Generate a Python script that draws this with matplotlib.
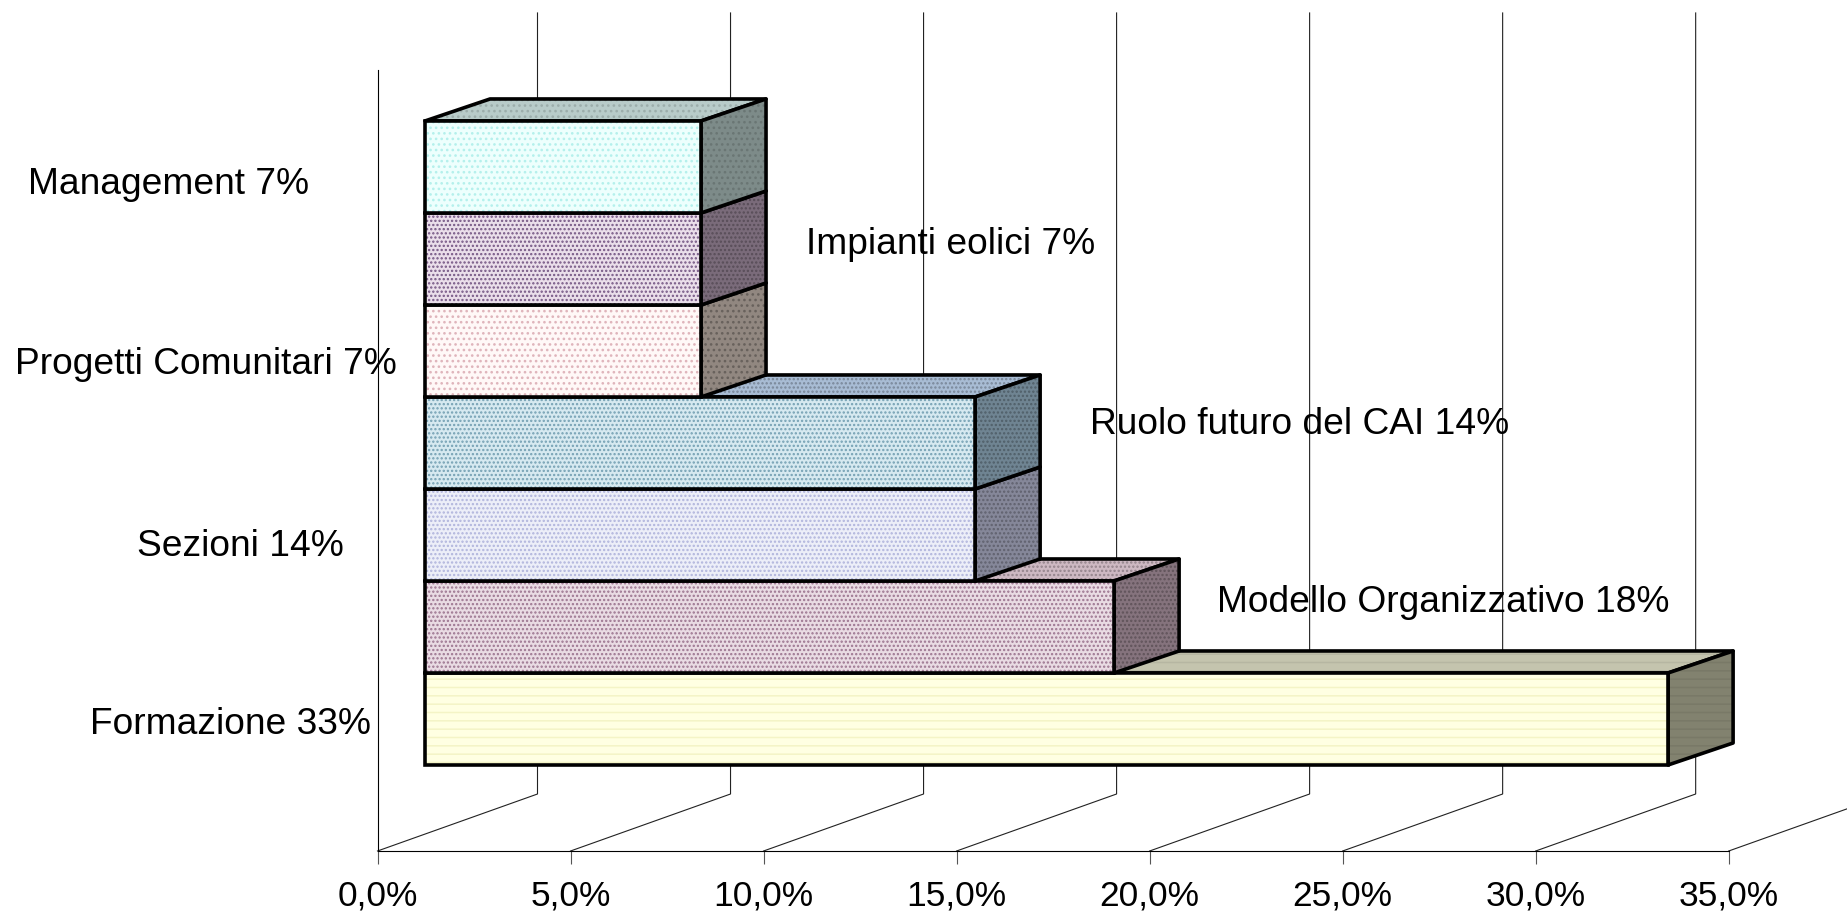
import matplotlib
matplotlib.use('Agg')
import matplotlib.pyplot as plt

plt.rcParams['font.family'] = ['Liberation Sans', 'DejaVu Sans']
plt.rcParams['hatch.linewidth'] = 1.1

# bottom to top
values = [32.2, 17.85, 14.25, 14.25, 7.15, 7.15, 7.15]
face_colors = ['#ffffe2', '#e9dbe3', '#eceef8', '#d6e9f0', '#fff8f7', '#eadeea', '#edfffd']
dot_colors = ['#f4f4c6', '#9c7590', '#b0b4dc', '#74a0b3', '#dfb4bb', '#755684', '#b4f0ec']
top_colors = ['#c4c4ae', '#cdb8c2', '#b0b2cc', '#a8bcd4', '#b8b0b0', '#aa9aaa', '#b8cbc9']
side_colors = ['#82826f', '#85737d', '#858799', '#6f8492', '#918780', '#7a6b7a', '#7d8b89']
shade_amount = [0.93, 0.72, 0.72, 0.72, 0.72, 0.72, 0.85]
patterns = ['--', '....', '....', '....', '...', '....', '...']

bar_labels = ['Formazione 33%', 'Modello Organizzativo 18%', 'Sezioni 14%', 'Ruolo futuro del CAI 14%',
              'Progetti Comunitari 7%', 'Impianti eolici 7%', 'Management 7%']
label_x = [90, 1217, 137, 1090, 15, 806, 28]
label_y = [724, 603, 546, 425, 365, 244, 184]

xticks = [0, 5, 10, 15, 20, 25, 30, 35]
xticklabels = ['0,0%', '5,0%', '10,0%', '15,0%', '20,0%', '25,0%', '30,0%', '35,0%']

W, H = 1847, 914
fig = plt.figure(figsize=(W / 100, H / 100), dpi=100)
ax = fig.add_axes([377.5 / W, 1 - 851 / H, (1728.7 - 377.5) / W, 781 / H])
ax.set_xlim(0, 35)
ax.set_ylim(-1.435, 7.054)
ax.patch.set_visible(False)

px_x = (1728.7 - 377.5) / 35
px_y = 92

# walls
wall_dx = 160 / px_x
wall_dy = 57 / px_y
wall_top = 7.674
y0 = -1.435
for v in xticks:
    ax.plot([v, v + wall_dx, v + wall_dx], [y0, y0 + wall_dy, wall_top], color='#222222', lw=0.8,
            clip_on=False, zorder=1)


def shade(c, f):
    r, g, b = matplotlib.colors.to_rgb(c)
    return (r * f, g * f, b * f)


def face(xs, ys, fc, hc, pat, z):
    ax.fill(xs, ys, facecolor=fc, edgecolor=hc, hatch=pat, lw=0, zorder=z, clip_on=False)
    ax.fill(xs, ys, facecolor='none', edgecolor='black', lw=2.6, zorder=z + 0.05, clip_on=False,
            joinstyle='round')


# 3d bars
bar_left = 47.5 / px_x
dx = 65 / px_x
dy = 22 / px_y
for i, v in enumerate(values):
    z = 2 + i
    right = bar_left + v
    low = i - 0.5
    up = i + 0.5
    face([bar_left, right, right + dx, bar_left + dx], [up, up, up + dy, up + dy],
         top_colors[i], shade(top_colors[i], shade_amount[i]), patterns[i], z)
    face([right, right + dx, right + dx, right], [low, low + dy, up + dy, up],
         side_colors[i], shade(side_colors[i], shade_amount[i]), patterns[i], z + 0.1)
    ax.barh(i, v, height=1, left=bar_left, color=face_colors[i], edgecolor=dot_colors[i],
            hatch=patterns[i], lw=0, zorder=z + 0.2, clip_on=False)
    ax.barh(i, v, height=1, left=bar_left, color='none', edgecolor='black', lw=2.6, zorder=z + 0.3,
            clip_on=False)

for s in ['top', 'right']:
    ax.spines[s].set_visible(False)
ax.spines['left'].set_linewidth(0.8)
ax.spines['bottom'].set_linewidth(0.8)
ax.spines['left'].set_zorder(1)
ax.set_yticks([])
ax.set_xticks(xticks)
ax.set_xticklabels(xticklabels, fontsize=25.5)
ax.tick_params(axis='x', length=9.4, width=0.8, color='#555555', pad=11)

for t, x, y in zip(bar_labels, label_x, label_y):
    fig.text(x / W, 1 - y / H, t, fontsize=26.7, ha='left', va='center', color='black')

fig.savefig('out.png', dpi=100)
